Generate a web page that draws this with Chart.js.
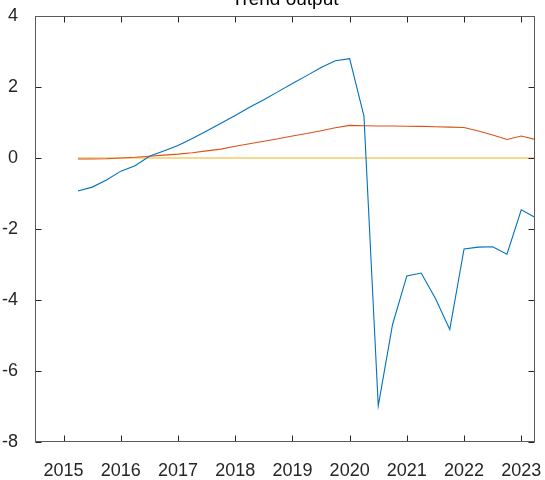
<!DOCTYPE html>
<html>
<head>
<meta charset="utf-8">
<script src="https://cdn.jsdelivr.net/npm/chart.js@4/dist/chart.umd.min.js"></script>
<style>
  html, body { margin: 0; padding: 0; background: #fff; }
  #wrap { width: 545px; height: 480px; }
</style>
</head>
<body>
<div id="wrap"><canvas id="trendChart" width="545" height="480"></canvas></div>
<script>
// quarterly dates as decimal years, 2015 Q2 .. 2023 Q2
const quarters = [
  2015.25, 2015.5, 2015.75, 2016, 2016.25, 2016.5, 2016.75, 2017, 2017.25, 2017.5, 2017.75,
  2018, 2018.25, 2018.5, 2018.75, 2019, 2019.25, 2019.5, 2019.75, 2020, 2020.25, 2020.5,
  2020.75, 2021, 2021.25, 2021.5, 2021.75, 2022, 2022.25, 2022.5, 2022.75, 2023, 2023.25
];
const seriesA = [
  -0.93, -0.82, -0.62, -0.37, -0.22, 0.05, 0.20, 0.35, 0.55, 0.76, 0.98,
  1.20, 1.43, 1.64, 1.87, 2.10, 2.32, 2.55, 2.74, 2.80, 1.18, -6.98,
  -4.69, -3.32, -3.24, -3.96, -4.83, -2.56, -2.51, -2.50, -2.71, -1.46, -1.68
];
const seriesB = [
  -0.03, -0.03, -0.02, 0.00, 0.02, 0.05, 0.08, 0.11, 0.15, 0.20, 0.25,
  0.33, 0.40, 0.47, 0.54, 0.62, 0.69, 0.77, 0.85, 0.92, 0.91, 0.90,
  0.90, 0.895, 0.89, 0.88, 0.87, 0.86, 0.76, 0.65, 0.52, 0.62, 0.52
];
const seriesC = [
  0, 0, 0, 0, 0, 0, 0, 0, 0, 0, 0,
  0, 0, 0, 0, 0, 0, 0, 0, 0, 0, 0,
  0, 0, 0, 0, 0, 0, 0, 0, 0, 0, 0
];
const yearTicks = [2015, 2016, 2017, 2018, 2019, 2020, 2021, 2022, 2023];
const yTicks = [-8, -6, -4, -2, 0, 2, 4];
const titleText = 'Trend output';

const FONT = '"Liberation Sans", Arial, Helvetica, sans-serif';
const TEXT = '#262626';

function points(values) {
  return quarters.map((q, i) => ({ x: q, y: values[i] }));
}

// box round the plot with inward ticks on all four sides, matlab style
const boxPlugin = {
  id: 'box',
  afterDraw(chart) {
    const { ctx, chartArea: a, scales } = chart;
    const L = Math.round(a.left) + 0.5, R = Math.round(a.right) - 0.5;
    const T = Math.round(a.top) + 0.5, B = Math.round(a.bottom) - 0.5;
    const len = 6;
    ctx.save();
    ctx.strokeStyle = TEXT;
    ctx.lineWidth = 1;
    ctx.beginPath();
    yearTicks.forEach(v => {
      const x = Math.round(scales.x.getPixelForValue(v)) + 0.5;
      ctx.moveTo(x, B); ctx.lineTo(x, B - len);
      ctx.moveTo(x, T); ctx.lineTo(x, T + len);
    });
    yTicks.forEach(v => {
      const y = Math.round(scales.y.getPixelForValue(v)) + 0.5;
      ctx.moveTo(L, y); ctx.lineTo(L + len, y);
      ctx.moveTo(R, y); ctx.lineTo(R - len, y);
    });
    ctx.stroke();
    ctx.strokeStyle = '#5a5a5a';
    ctx.strokeRect(L, T, R - L, B - T);
    ctx.restore();
  }
};

// title sits half above the top edge of the canvas
const titlePlugin = {
  id: 'topTitle',
  afterDraw(chart) {
    const { ctx, chartArea: a } = chart;
    ctx.save();
    ctx.fillStyle = '#000';
    ctx.font = '19px ' + FONT;
    ctx.textAlign = 'center';
    ctx.textBaseline = 'alphabetic';
    ctx.fillText(titleText, (a.left + a.right) / 2, 4.5);
    ctx.restore();
  }
};

const ctx = document.getElementById('trendChart').getContext('2d');
new Chart(ctx, {
  type: 'line',
  data: {
    datasets: [
      { data: points(seriesA), borderColor: '#0072BD' },
      { data: points(seriesB), borderColor: '#D95319' },
      { data: points(seriesC), borderColor: '#EDB120' }
    ]
  },
  options: {
    responsive: false,
    animation: false,
    elements: {
      line: { borderWidth: 1.1, tension: 0 },
      point: { radius: 0 }
    },
    layout: { padding: { top: 16, right: 10, left: 0, bottom: 0 } },
    plugins: {
      legend: { display: false },
      tooltip: { enabled: false },
      title: { display: false }
    },
    scales: {
      x: {
        type: 'linear',
        min: 2014.5,
        max: 2023.24,
        grid: { display: false },
        border: { display: false },
        afterBuildTicks: s => { s.ticks = yearTicks.map(v => ({ value: v })); },
        afterFit: s => {
          s.height = 38;
          s.paddingLeft = 0;
          s.paddingRight = 0;
        },
        ticks: {
          color: TEXT,
          font: { family: FONT, size: 18 },
          padding: 10,
          maxRotation: 0,
          autoSkip: false,
          callback: v => String(v)
        }
      },
      y: {
        min: -8,
        max: 4,
        grid: { display: false },
        border: { display: false },
        afterBuildTicks: s => { s.ticks = yTicks.map(v => ({ value: v })); },
        afterFit: s => {
          s.width = 35;
          s.paddingTop = 0;
          s.paddingBottom = 0;
        },
        ticks: {
          color: TEXT,
          font: { family: FONT, size: 18 },
          padding: 9,
          callback: v => String(v)
        }
      }
    }
  },
  plugins: [boxPlugin, titlePlugin]
});
</script>
</body>
</html>
